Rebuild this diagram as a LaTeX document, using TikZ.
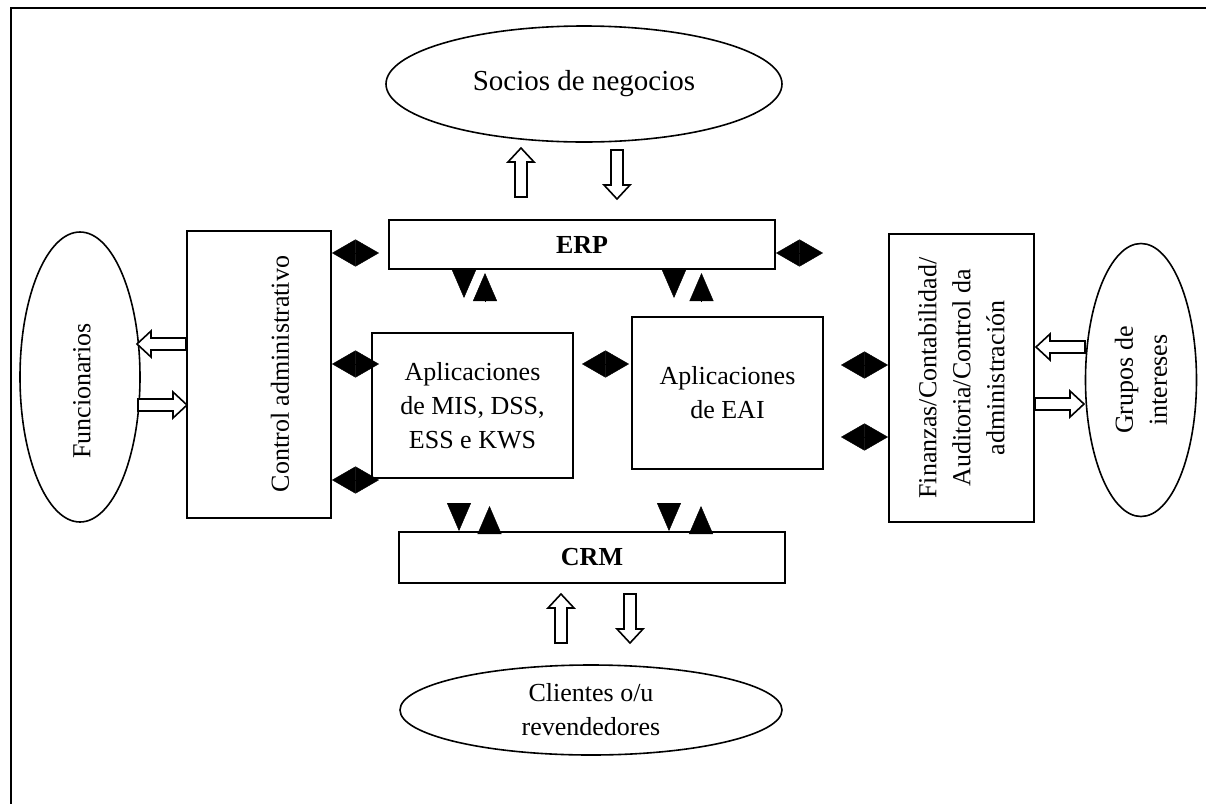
\documentclass[tikz,border=0pt]{standalone}
\usepackage{fontspec}
\setmainfont{Liberation Serif}
\usetikzlibrary{shapes.geometric,arrows.meta}
\begin{document}
\begin{tikzpicture}[x=0.5pt,y=-0.5pt,
                    font=\fontsize{13}{17}\selectfont,
                    box/.style={draw,line width=1pt,inner sep=0pt,align=center},
                    oval/.style={draw,ellipse,line width=0.8pt,inner sep=0pt,align=center},
                    hollow/.pic={\draw[line width=0.8pt,fill=white] (0,-6) -- (35,-6) -- (35,-13) -- (49,0)
                                   -- (35,13) -- (35,6) -- (0,6) -- cycle;},
                    biarrow/.style={line width=0.2pt,
                                    {Triangle[length=11.75pt,width=13.5pt]}-{Triangle[length=11.75pt,width=13.5pt]}},
                    tri/.style={line width=0.2pt,-{Triangle[length=14pt,width=12pt]}}]

        \useasboundingbox (0,0) rectangle (1206,804);
        \draw[line width=1pt] (1206,8) -- (11,8) -- (11,804);

        % Define vertices
        \node[oval,minimum width=198pt,minimum height=58pt,font=\fontsize{14.5}{17}\selectfont] (socios) at (584,84) {Socios de negocios};
        \node[oval,minimum width=191pt,minimum height=45pt] (clientes) at (591,710) {Clientes o/u\\revendedores};
        \node[oval,rotate=90,minimum width=145pt,minimum height=60pt] (func) at (80,377) {};
        \node[rotate=90] (functext) at (82,391) {Funcionarios};
        \node[oval,rotate=90,minimum width=136.5pt,minimum height=55.5pt] (grupos) at (1141,380) {Grupos de\\intereses};

        \node[box,minimum width=193pt,minimum height=24.5pt,font=\fontsize{13}{17}\selectfont\bfseries] (erp) at (582,244.5) {ERP};
        \node[box,minimum width=193pt,minimum height=25.5pt,font=\fontsize{13}{17}\selectfont\bfseries] (crm) at (592,557.5) {CRM};
        \node[box,minimum width=72pt,minimum height=143.5pt] (ctrl) at (259,374.5) {};
        \node[rotate=90] (ctrltext) at (280,374) {Control administrativo};
        \node[box,minimum width=100.5pt,minimum height=72.5pt] (mis) at (472.5,405.5) {Aplicaciones\\de MIS, DSS,\\ESS e KWS};
        \node[box,minimum width=95.5pt,minimum height=76pt] (eai) at (727.5,393) {Aplicaciones\\de EAI};
        \node[box,rotate=90,minimum width=144pt,minimum height=72.5pt] (fin) at (961.5,378) {Finanzas/Contabilidad/\\Auditoria/Control da\\administración};

        % Draw edges
        \pic[rotate=90] at (521,197) {hollow};
        \pic[rotate=-90] at (617,150) {hollow};
        \pic[rotate=90] at (561,643) {hollow};
        \pic[rotate=-90] at (630,594) {hollow};
        \pic[rotate=180] at (ctrl.west |- 0,344) {hollow};
        \pic at (138,405) {hollow};
        \pic[rotate=180] at (1085,347) {hollow};
        \pic at (fin.south |- 0,404) {hollow};

        \draw[biarrow] (ctrl.east |- 0,253) -- ++(47,0);
        \draw[biarrow] (ctrl.east |- 0,364) -- ++(47,0);
        \draw[biarrow] (ctrl.east |- 0,480) -- ++(47,0);
        \draw[biarrow] ([xshift=4pt]mis.east |- 0,364) -- ++(47,0);
        \draw[biarrow] (erp.east |- 0,253) -- ++(47,0);
        \draw[biarrow] (fin.north |- 0,365) -- ++(-47,0);
        \draw[biarrow] (fin.north |- 0,437) -- ++(-47,0);

        \draw[tri] (464,0 |- erp.south) -- ++(0,28);
        \draw[tri] (485,302) -- ++(0,-29);
        \draw[tri] (674,0 |- erp.south) -- ++(0,28);
        \draw[tri] (701.5,302) -- ++(0,-29);
        \draw[tri] (459,504) -- (459,0 |- crm.north);
        \draw[tri] (489.5,0 |- crm.north) -- ++(0,-25);
        \draw[tri] (669,504) -- (669,0 |- crm.north);
        \draw[tri] (701,0 |- crm.north) -- ++(0,-25);

        \end{tikzpicture}
\end{document}
